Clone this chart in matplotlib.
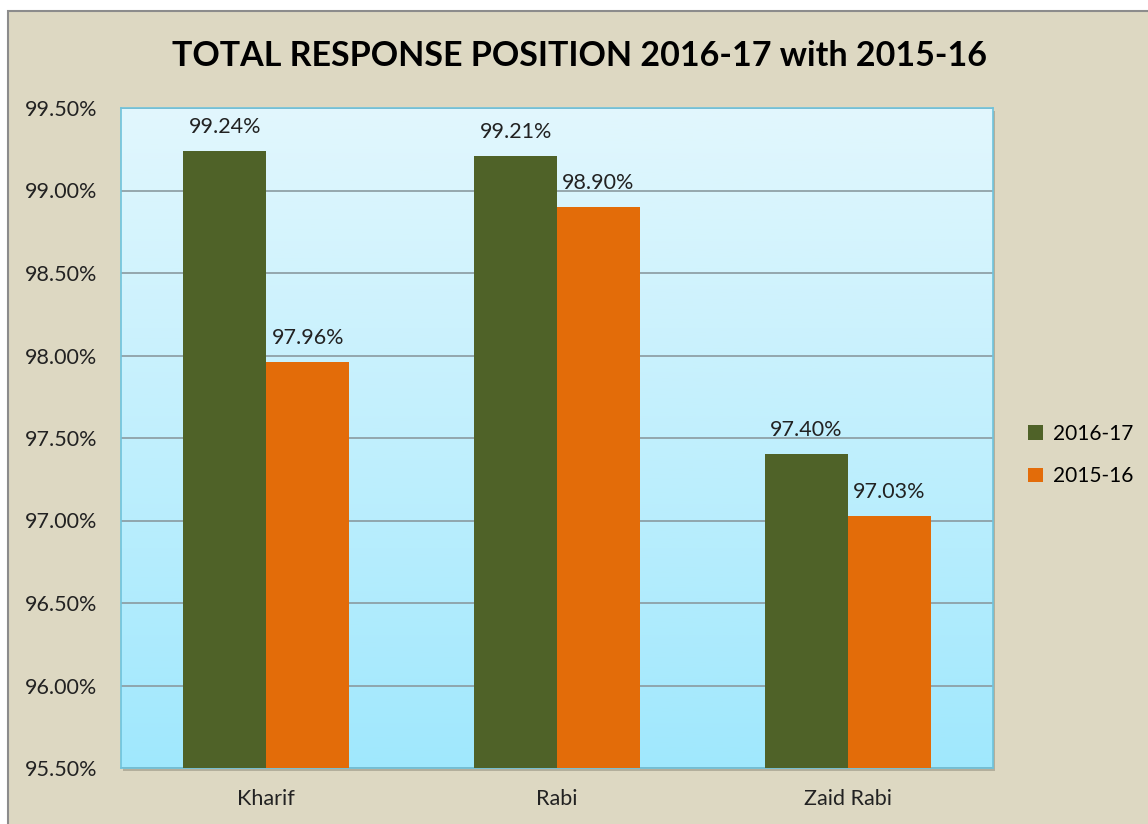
import numpy as np
import matplotlib.pyplot as plt
from matplotlib.patches import Rectangle
from matplotlib.colors import LinearSegmentedColormap

categories = ["Kharif", "Rabi", "Zaid Rabi"]
series_names = ["2016-17", "2015-16"]
values_1617 = [99.24, 99.21, 97.40]
values_1516 = [97.96, 98.90, 97.03]
yticks = [95.5, 96.0, 96.5, 97.0, 97.5, 98.0, 98.5, 99.0, 99.5]

plt.rcParams['font.family'] = ['Lato', 'DejaVu Sans']

green = "#4f6228"
orange = "#e36c09"
bg = "#ddd8c2"

fig = plt.figure(figsize=(11.48, 8.24), dpi=100)
fig.patch.set_facecolor("white")

# chart border/background
fig.patches.append(Rectangle((8 / 1148, -0.01), 1.0, 1 - 11 / 824 + 0.01,
                             transform=fig.transFigure, facecolor=bg,
                             edgecolor="#8c8c8c", linewidth=1.5, zorder=-2))

ax = fig.add_axes([121 / 1148, 1 - 768 / 824, (993 - 121) / 1148, (768 - 108) / 824])

# drop shadow behind plot area
fig.patches.append(Rectangle((121 / 1148 + 0.002, 1 - 768 / 824 - 0.004),
                             (993 - 121) / 1148, (768 - 108) / 824,
                             transform=fig.transFigure, facecolor="#b3af9c",
                             edgecolor="none", zorder=-1))

# gradient plot background
cmap = LinearSegmentedColormap.from_list("bg", ["#a0e8fd", "#e2f7fd"])
grad = np.linspace(0, 1, 256).reshape(-1, 1)
ax.imshow(grad, aspect="auto", cmap=cmap, origin="lower",
          extent=[0, 1, 0, 1], transform=ax.transAxes, zorder=0)

x = np.arange(len(categories))
w = 0.285
b1 = ax.bar(x - w / 2, np.array(values_1617) - 95.5, w, bottom=95.5,
            color=green, label=series_names[0], zorder=3)
b2 = ax.bar(x + w / 2, np.array(values_1516) - 95.5, w, bottom=95.5,
            color=orange, label=series_names[1], zorder=3)

for bars, vals in ((b1, values_1617), (b2, values_1516)):
    for rect, v in zip(bars, vals):
        ax.text(rect.get_x() + rect.get_width() / 2, v + 0.085, f"{v:.2f}%",
                ha="center", va="bottom", fontsize=15.5, color="#222222", zorder=4)

ax.set_xlim(-0.5, 2.5)
ax.set_ylim(95.5, 99.5)
ax.set_yticks(yticks)
ax.set_yticklabels([f"{t:.2f}%" for t in yticks], fontsize=15.5, color="#222222")
ax.set_xticks(x)
ax.set_xticklabels(categories, fontsize=15.5, color="#222222")
ax.tick_params(length=0)
ax.tick_params(axis="x", pad=15)
ax.tick_params(axis="y", pad=17)
ax.grid(axis="y", color="#8a9aa0", linewidth=1.2, zorder=1)
for s in ax.spines.values():
    s.set_color("#6ec3dc")
    s.set_linewidth(1.2)

fig.text(0.505, 1 - 56 / 824, "TOTAL RESPONSE POSITION 2016-17 with 2015-16",
         ha="center", va="center", fontsize=24.5, fontweight="bold", color="black")

fig.legend(handles=[b1, b2], labels=series_names, loc="center left",
           bbox_to_anchor=(1020 / 1148, 1 - 455 / 824), frameon=False,
           fontsize=15, handlelength=0.7, handleheight=0.7, labelspacing=1.1,
           handletextpad=0.5, borderaxespad=0)

fig.savefig("out.png", dpi=100, facecolor=fig.get_facecolor())
